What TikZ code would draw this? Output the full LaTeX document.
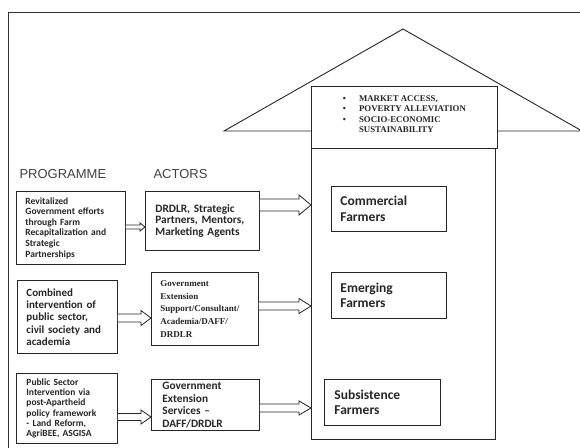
\documentclass[tikz,border=0pt]{standalone}
\usepackage{fontspec}
\setmainfont{Liberation Serif}
\newfontfamily\calfont{Carlito}
\newfontfamily\arialfont{Liberation Sans}
\usetikzlibrary{calc}
\begin{document}
\begin{tikzpicture}[x=1pt,y=-1pt, line join=miter,
	box/.style={draw=black!85, line width=.9pt, fill=white, anchor=north west, inner ysep=0pt, align=left, text=black!85},
	sansbox/.style 2 args={box, font=\calfont\bfseries\fontsize{#1}{#2}\selectfont},
	serifbox/.style 2 args={box, font=\bfseries\fontsize{#1}{#2}\selectfont},
	head/.style={anchor=west, text=black!75, font=\arialfont\fontsize{13}{15}\selectfont},
	arrowline/.style={draw=black!85, line width=.8pt, fill=white}]
	% x, y in pixels of the figure
	\def\barrow#1#2#3#4#5#6{% from, to, y, half shaft, half head, head length
		\draw[arrowline] let \p1=(#1.east |- 0,#3), \p2=(#2.west |- 0,#3) in
		(\x1,\y1+#4) -- (\x2-#6,\y1+#4) -- (\x2-#6,\y1+#5) -- (\x2,\y1)
		-- (\x2-#6,\y1-#5) -- (\x2-#6,\y1-#4) -- (\x1,\y1-#4);}
	\useasboundingbox (0,0) rectangle (580,447);
	\clip (0,0) rectangle (580,447);
	\fill[white] (0,0) rectangle (580,447);
	\draw[line width=.9pt, black!80] (8,460)--(8,12)--(590,12);
	% roof
	\draw[line width=.9pt, black!85] (224,131)--(403,29)--(582,131)--cycle;
	\node[serifbox={8.8}{10.2}, minimum width=186, minimum height=62] (goals) at (311,86)
		{\begin{tabular}{@{}l@{\hspace{13pt}}l@{}}
			\textbullet & MARKET ACCESS,\\
			\textbullet & POVERTY ALLEVIATION\\
			\textbullet & SOCIO-ECONOMIC\\
			 & SUSTAINABILITY
		\end{tabular}\\[4pt]};
	\node[box, minimum width=184, minimum height=291] (house) at (311,148) {};
	% farmers
	\node[sansbox={13.5}{15.5}, inner xsep=9pt, text width=97, minimum height=45] (fc) at (331,186) {Commercial\\Farmers\\[3pt]};
	\node[sansbox={13.5}{15.5}, inner xsep=9pt, text width=97, minimum height=46] (fe) at (331,272) {Emerging\\Farmers\\[6pt]};
	\node[sansbox={13.5}{15.5}, inner xsep=10pt, text width=96, minimum height=46] (fs) at (324,379) {Subsistence\\Farmers\\[3pt]};
	% columns
	\node[head] (prog) at (16,174) {PROGRAMME};
	\node[head] (act) at (150,174) {ACTORS};
	\node[sansbox={9.5}{10.6}, inner xsep=9pt, text width=91, minimum height=73] (p1) at (16,191)
		{Revitalized\\Government efforts\\through Farm\\Recapitalization and\\Strategic\\Partnerships};
	\node[sansbox={11}{12.3}, inner xsep=9pt, text width=82, minimum height=73] (p2) at (17,280)
		{Combined\\intervention of\\public sector,\\civil society and\\academia};
	\node[sansbox={9.5}{10.2}, inner xsep=10pt, text width=81, minimum height=70] (p3) at (16,373)
		{Public Sector\\Intervention via\\post-Apartheid\\policy framework\\- Land Reform,\\AgriBEE, ASGISA};
	\node[sansbox={11.3}{11.8}, inner xsep=10pt, text width=94, minimum height=59] (a1) at (145,191)
		{DRDLR, Strategic\\Partners, Mentors,\\Marketing Agents\\[9pt]};
	\node[serifbox={9}{12.8}, inner xsep=9pt, text width=89, minimum height=73] (a2) at (151,272)
		{Government\\Extension\\Support/Consultant/\\Academia/DAFF/\\DRDLR};
	\node[sansbox={11.3}{12.4}, inner xsep=11pt, text width=86, minimum height=51] (a3) at (151,379)
		{Government\\Extension\\Services –\\DAFF/DRDLR};
	% arrows
	\barrow{p1}{a1}{227}{2pt}{4pt}{5pt}
	\barrow{a1}{house}{205}{6pt}{10pt}{12pt}
	\barrow{p2}{a2}{318}{4pt}{7.5pt}{10pt}
	\barrow{a2}{house}{306}{4pt}{7.5pt}{12pt}
	\barrow{p3}{a3}{417}{3.5pt}{7pt}{10pt}
	\barrow{a3}{house}{408}{4pt}{7pt}{12pt}
\end{tikzpicture}
\end{document}
